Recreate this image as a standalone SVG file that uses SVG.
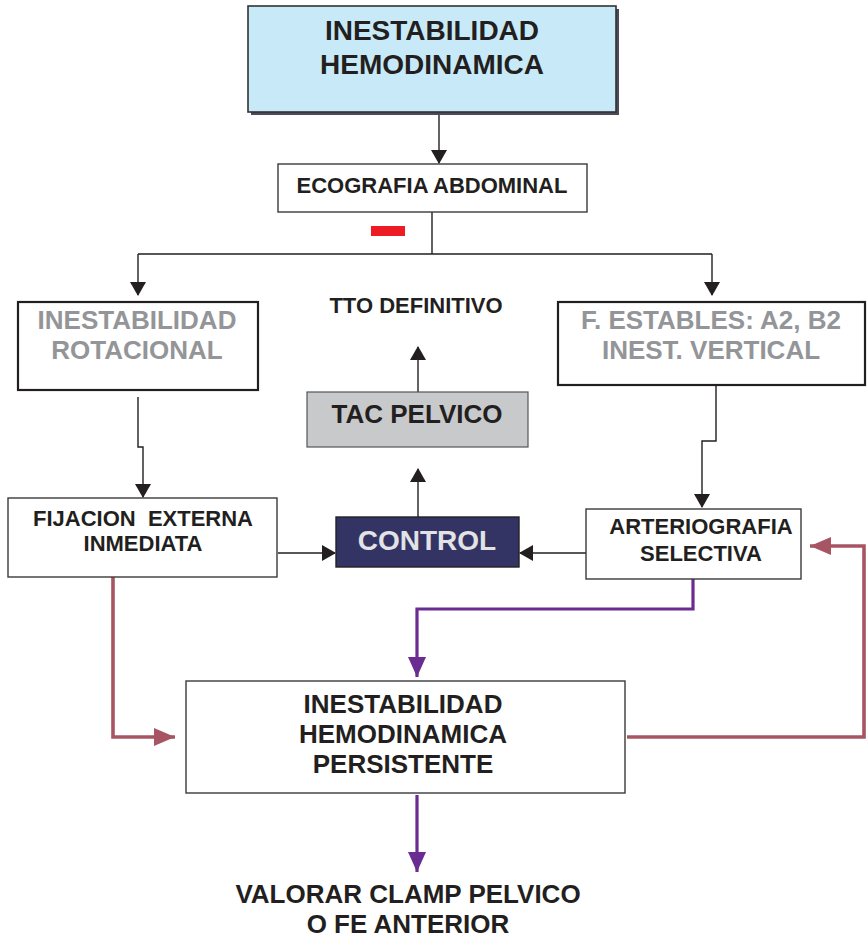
<svg xmlns="http://www.w3.org/2000/svg" width="867" height="938" viewBox="0 0 867 938">
<style>
text{font-family:"Liberation Sans",Arial,sans-serif;font-weight:bold;text-anchor:middle;fill:#231F20}
.g{fill:#939598}
.box{fill:#fff;stroke:#3a3a3a;stroke-width:1.4}
.tbox{fill:#fff;stroke:#231F20;stroke-width:2.2}
.k{fill:none;stroke:#231F20;stroke-width:1.4}
.p{fill:none;stroke:#6A2C91;stroke-width:3.2}
.r{fill:none;stroke:#A85563;stroke-width:3.6}
</style>
<defs>
<marker id="ak" markerUnits="userSpaceOnUse" markerWidth="14" markerHeight="16" refX="13" refY="8" orient="auto"><path d="M0,0 L14,8 L0,16 Z" fill="#231F20"/></marker>
<marker id="ap" markerUnits="userSpaceOnUse" markerWidth="20" markerHeight="18" refX="20" refY="9" orient="auto"><path d="M0,0 L20,9 L0,18 Z" fill="#6A2C91"/></marker>
<marker id="ar" markerUnits="userSpaceOnUse" markerWidth="21" markerHeight="18" refX="21" refY="9" orient="auto"><path d="M0,0 L21,9 L0,18 Z" fill="#A85563"/></marker>
</defs>
<rect width="867" height="938" fill="#fff"/>
<g id="connectors">
<path class="k" d="M439,112 V163" marker-end="url(#ak)"/>
<path class="k" d="M432,212 V254 M138,254 H712"/>
<path class="k" d="M138,254 V295" marker-end="url(#ak)"/>
<path class="k" d="M712,254 V295" marker-end="url(#ak)"/>
<path class="k" d="M138,397 V447 H143 V497" marker-end="url(#ak)"/>
<path class="k" d="M716,385 V441 H702 V507" marker-end="url(#ak)"/>
<path class="k" d="M278,553 H335" marker-end="url(#ak)"/>
<path class="k" d="M586,553 H520" marker-end="url(#ak)"/>
<path class="k" d="M418,517 V469" marker-end="url(#ak)"/>
<path class="k" d="M418,392 V347" marker-end="url(#ak)"/>
<path class="p" d="M693,579 V609 H417 V677" marker-end="url(#ap)"/>
<path class="p" d="M417,795 V872" marker-end="url(#ap)"/>
<path class="r" d="M113,577 V737 H175" marker-end="url(#ar)"/>
<path class="r" d="M627,737 H864 V546 H810" marker-end="url(#ar)"/>
</g>
<g id="n-inestabilidad">
<rect x="251" y="9" width="368" height="106" fill="#4a4a5a"/>
<rect x="248" y="6" width="368" height="106" fill="#C8EAF8" stroke="#333" stroke-width="1.6"/>
<text x="432" y="40" font-size="28">INESTABILIDAD</text>
<text x="432" y="74" font-size="28">HEMODINAMICA</text>
</g>
<g id="n-ecografia">
<rect class="box" x="278" y="164" width="309" height="48"/>
<text x="432" y="193" font-size="22">ECOGRAFIA ABDOMINAL</text>
</g>
<g id="n-minus">
<rect x="371" y="226" width="34" height="10" fill="#ED1C24"/>
</g>
<g id="n-rotacional">
<rect class="tbox" x="18" y="302" width="240" height="88"/>
<text class="g" x="137" y="329" font-size="26">INESTABILIDAD</text>
<text class="g" x="137" y="359" font-size="26">ROTACIONAL</text>
</g>
<g id="n-estables">
<rect class="tbox" x="558" y="302" width="307" height="83"/>
<text class="g" x="711" y="329" font-size="26">F. ESTABLES: A2, B2</text>
<text class="g" x="711" y="359" font-size="26">INEST. VERTICAL</text>
</g>
<g id="n-tto">
<text x="416" y="313" font-size="22">TTO DEFINITIVO</text>
</g>
<g id="n-tac">
<rect x="307" y="392" width="221" height="55" fill="#C8C9CA" stroke="#555" stroke-width="1.2"/>
<text x="417" y="423" font-size="26">TAC PELVICO</text>
</g>
<g id="n-control">
<rect x="336" y="517" width="183" height="50" fill="#343464" stroke="#222" stroke-width="1.4"/>
<text x="427" y="550" font-size="28" style="fill:#E2E3E4">CONTROL</text>
</g>
<g id="n-fijacion">
<rect class="box" x="8" y="498" width="269" height="79"/>
<text x="143" y="526" font-size="22" style="white-space:pre" xml:space="preserve">FIJACION  EXTERNA</text>
<text x="143" y="551" font-size="22">INMEDIATA</text>
</g>
<g id="n-arteriografia">
<rect class="box" x="586" y="509" width="215" height="70"/>
<text x="701" y="534" font-size="22">ARTERIOGRAFIA</text>
<text x="701" y="561" font-size="22">SELECTIVA</text>
</g>
<g id="n-persistente">
<rect class="box" x="186" y="681" width="439" height="112"/>
<text x="403" y="713" font-size="26">INESTABILIDAD</text>
<text x="403" y="743" font-size="26">HEMODINAMICA</text>
<text x="403" y="773" font-size="26">PERSISTENTE</text>
</g>
<g id="n-valorar">
<text x="408" y="903" font-size="26">VALORAR CLAMP PELVICO</text>
<text x="408" y="933" font-size="26">O FE ANTERIOR</text>
</g>
</svg>
